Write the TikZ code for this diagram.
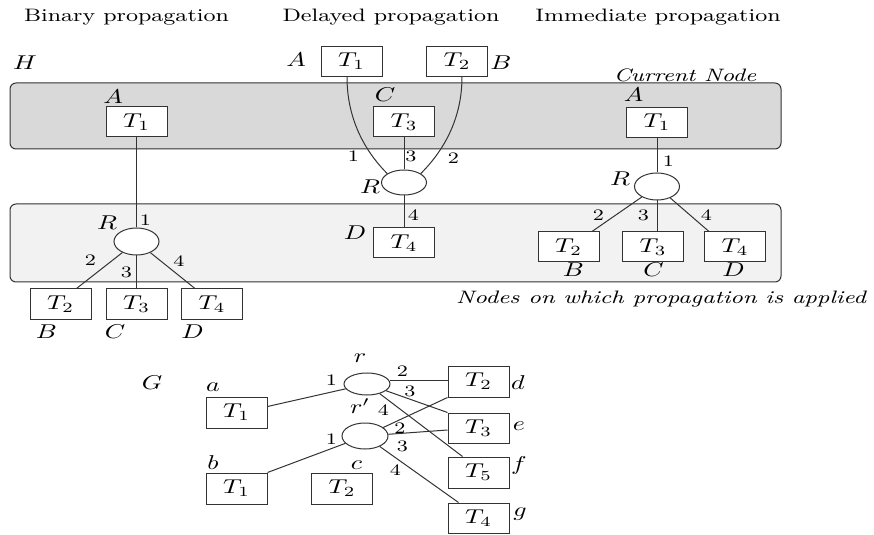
\documentclass[tikz,border=0pt]{standalone}
\usepackage{graphicx}
\usetikzlibrary{shapes.geometric,calc}
\newcommand\sx[1]{\scalebox{1.3}[1]{#1}}
\definecolor{bandA}{HTML}{D9D9D9}
\definecolor{bandB}{HTML}{F2F2F2}
\definecolor{edgec}{HTML}{333333}
\begin{document}
\begin{tikzpicture}[x=0.5pt,y=-0.5pt,
  tbox/.style={draw=edgec,fill=white,line width=0.5pt,minimum width=30.5pt,minimum height=15pt,inner sep=0pt,font=\fontsize{10}{12}\selectfont},
  rel/.style={draw=edgec,fill=white,ellipse,line width=0.5pt,inner sep=0pt,minimum width=22.5pt,minimum height=13pt},
  lab/.style={inner sep=0pt,font=\fontsize{10}{12}\selectfont},
  num/.style={inner sep=0pt,font=\fontsize{8}{9}\selectfont},
  ttl/.style={inner sep=0pt,font=\fontsize{9}{11}\selectfont},
  itl/.style={inner sep=0pt,font=\fontsize{9}{11}\selectfont\itshape},
  band/.style={draw=edgec,line width=0.5pt,rounded corners=3pt},
  conn/.style={draw=edgec,line width=0.5pt}]
\useasboundingbox (0,0) rectangle (874,535);
% bands
\draw[band,fill=bandA] (10,83) rectangle (781,149);
\draw[band,fill=bandB] (10,204) rectangle (781,282);
% titles
\node[ttl] (t1) at (126.5,17) {\sx{Binary propagation}};
\node[ttl] (t2) at (391,17) {\sx{Delayed propagation}};
\node[ttl] (t3) at (658,17) {\sx{Immediate propagation}};
\node[lab] (lH) at (25,63) {\sx{$H$}};
\node[itl] (lcur) at (685,75) {\sx{Current Node}};
\node[itl] (lnodes) at (661,299) {\scalebox{1.33}[1]{Nodes on which propagation is applied}};
% Binary propagation
\node[tbox] (bT1) at (136.5,122) {\sx{$T_1$}};
\node[rel,minimum height=13.5pt] (bR) at (136.5,241.5) {};
\node[tbox] (bT2) at (60.5,304) {\sx{$T_2$}};
\node[tbox] (bT3) at (136.5,304) {\sx{$T_3$}};
\node[tbox] (bT4) at (212,304) {\sx{$T_4$}};
\draw[conn] (bT1.south) -- (bR.north);
\draw[conn] (bR) -- ($(bT2.north)+(16,0)$);
\draw[conn] (bR.south) -- (bT3.north);
\draw[conn] (bR) -- ($(bT4.north)+(-17,0)$);
\node[lab] (bA) at (113,97) {\sx{$A$}};
\node[lab] (bRl) at (107,223) {\sx{$R$}};
\node[num] (b1) at (145.5,220) {\sx{1}};
\node[num] (b2) at (90.5,260) {\sx{2}};
\node[num] (b3) at (126.5,272.5) {\sx{3}};
\node[num] (b4) at (179,261.5) {\sx{4}};
\node[lab] (bB) at (46.5,331.5) {\sx{$B$}};
\node[lab] (bC) at (115,331.5) {\sx{$C$}};
\node[lab] (bD) at (192.5,331.5) {\sx{$D$}};
% Delayed propagation
\node[tbox] (dT1) at (351.5,61.5) {\sx{$T_1$}};
\node[tbox] (dT2) at (457,61.5) {\sx{$T_2$}};
\node[tbox] (dT3) at (404,122) {\sx{$T_3$}};
\node[rel,minimum height=12.5pt] (dR) at (404,182.5) {};
\node[tbox] (dT4) at (404,243) {\sx{$T_4$}};
\draw[conn] ($(dT1.south)+(-4.5,0)$) .. controls +(0,50) and +(-15,-15) .. (dR.152);
\draw[conn] ($(dT2.south)+(5,0)$) .. controls +(0,50) and +(15,-15) .. (dR.28);
\draw[conn] (dT3.south) -- (dR.north);
\draw[conn] (dR.south) -- (dT4.north);
\node[lab] (dA) at (296,60) {\sx{$A$}};
\node[lab] (dB) at (501,63) {\sx{$B$}};
\node[lab] (dC) at (385,95) {\sx{$C$}};
\node[lab] (dRl) at (370,186.5) {\sx{$R$}};
\node[lab] (dD) at (355,233) {\sx{$D$}};
\node[num] (d1) at (353.5,156.5) {\sx{1}};
\node[num] (d3) at (411,156.5) {\sx{3}};
\node[num] (d2) at (453.5,158.5) {\sx{2}};
\node[num] (d4) at (413.5,215) {\sx{4}};
% Immediate propagation
\node[tbox] (iT1) at (657,122.5) {\sx{$T_1$}};
\node[rel,minimum height=13.5pt] (iR) at (657,186.5) {};
\node[tbox] (iT2) at (568.5,247) {\sx{$T_2$}};
\node[tbox] (iT3) at (653,247) {\sx{$T_3$}};
\node[tbox] (iT4) at (735,247) {\sx{$T_4$}};
\draw[conn] (iT1.south) -- (iR.north);
\draw[conn] (iR) -- ($(iT2.north)+(23.5,0)$);
\draw[conn] (iR.south) -- (iR.south |- iT3.north);
\draw[conn] (iR) -- ($(iT4.north)+(-26,0)$);
\node[lab] (iA) at (633.5,95) {\sx{$A$}};
\node[lab] (iRl) at (620,178.5) {\sx{$R$}};
\node[num] (i1) at (668.5,161.5) {\sx{1}};
\node[num] (i2) at (598.5,215) {\sx{2}};
\node[num] (i3) at (643.5,215) {\sx{3}};
\node[num] (i4) at (706.5,215) {\sx{4}};
\node[lab] (iB) at (573.5,270) {\sx{$B$}};
\node[lab] (iC) at (653.5,270) {\sx{$C$}};
\node[lab] (iD) at (733.5,270) {\sx{$D$}};
% Graph G
\node[lab] (lG) at (152,383) {\sx{$G$}};
\node[tbox,minimum height=15.5pt] (ga) at (236.5,412.5) {\sx{$T_1$}};
\node[tbox,minimum height=15.5pt] (gb) at (236.5,488.5) {\sx{$T_1$}};
\node[tbox,minimum height=15.5pt] (gc) at (342,488.5) {\sx{$T_2$}};
\node[rel,minimum width=23pt,minimum height=11pt] (gr) at (367,384) {};
\node[rel,minimum width=23pt,minimum height=13pt] (grp) at (365,436) {};
\node[tbox,minimum height=15.5pt] (gd) at (478.5,381.5) {\sx{$T_2$}};
\node[tbox,minimum height=15pt] (ge) at (478.5,428) {\sx{$T_3$}};
\node[tbox,minimum height=15.5pt] (gf) at (478.5,472.5) {\sx{$T_5$}};
\node[tbox,minimum height=15pt] (gg) at (478.5,518) {\sx{$T_4$}};
\draw[conn] ($(ga.east)+(0,-6)$) -- (gr);
\draw[conn] (gb.north east) -- (grp);
\draw[conn] (gr.8) -- (gr.8 -| gd.west);
\draw[conn] (gr) -- (ge.north west);
\draw[conn] (gr) -- ($(gf.north)+(-16,0)$);
\draw[conn] (grp) -- (gd.south west);
\draw[conn] (grp) -- ($(ge.west)+(0,2)$);
\draw[conn] (grp) -- ($(gg.north)+(-20,0)$);
\node[lab] (la) at (213,387) {\sx{$a$}};
\node[lab] (lb) at (213,463) {\sx{$b$}};
\node[lab] (lc) at (356.5,465) {\sx{$c$}};
\node[lab] (lr) at (360,358) {\sx{$r$}};
\node[lab] (lrp) at (360,406) {\sx{$r'$}};
\node[lab] (ld) at (518,383) {\sx{$d$}};
\node[lab] (le) at (519,426.5) {\sx{$e$}};
\node[lab] (lf) at (519,465) {\sx{$f$}};
\node[lab] (lg) at (520,514) {\sx{$g$}};
\node[num] (r1) at (331.5,380) {\sx{1}};
\node[num] (r2) at (402.5,371.5) {\sx{2}};
\node[num] (r3) at (410,391.5) {\sx{3}};
\node[num] (r4) at (383.5,410) {\sx{4}};
\node[num] (p1) at (331.5,439) {\sx{1}};
\node[num] (p2) at (400,428) {\sx{2}};
\node[num] (p3) at (402.5,446.5) {\sx{3}};
\node[num] (p4) at (395.5,470) {\sx{4}};
\end{tikzpicture}
\end{document}
